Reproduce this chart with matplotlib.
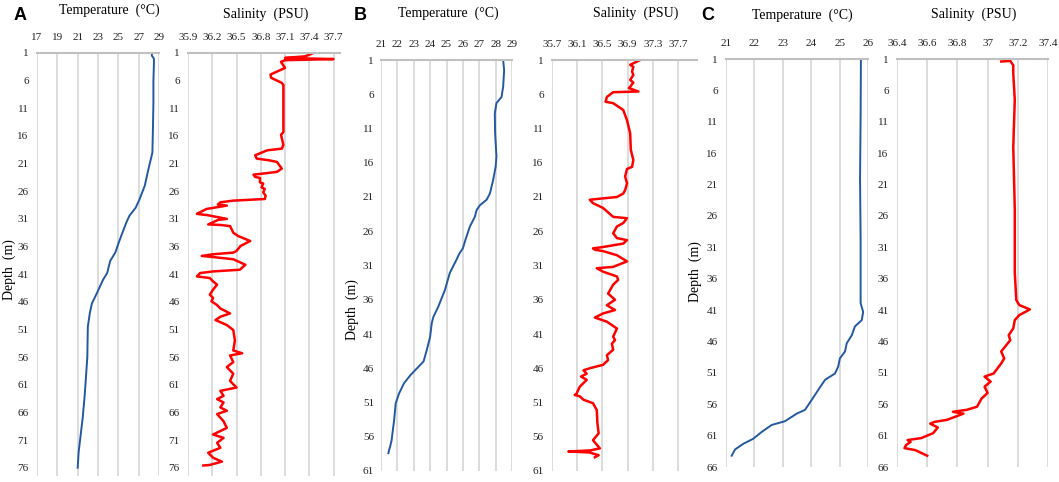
import matplotlib
matplotlib.use("Agg")
import matplotlib.pyplot as plt

plt.rcParams['font.family'] = ['Liberation Serif', 'DejaVu Serif']

# --- station A ---
a_temp_depth = [1, 1.5, 2, 3, 6, 10, 15, 19, 22.5, 25, 27.4, 29, 30.4, 31.6, 34, 35.5, 37.1, 38.6,
                40.8, 42, 44.4, 46.3, 48, 50.5, 56, 62.7, 66.9, 73.1, 76]
a_temp = [28.3, 28.3, 28.5, 28.5, 28.45, 28.45, 28.4, 28.35, 27.9, 27.6, 27.1, 26.7, 26.1, 25.8, 25.3,
          25.0, 24.7, 24.2, 23.9, 23.5, 22.9, 22.4, 22.2, 22.0, 21.95, 21.7, 21.5, 21.1, 21.0]

a_sal_depth = [1.0, 1.6, 1.9, 2.1, 2.3, 2.6, 3.7, 4.9, 5.5, 6.4, 6.8, 10, 15.3, 15.8, 17.6, 18.3, 18.6,
               19.5, 20.1, 20.4, 20.7, 21.9, 22.5, 22.8, 23.0, 23.4, 23.6, 24.4, 24.6, 25.3, 25.6, 26.2,
               26.8, 27.4, 27.7, 28.0, 28.4, 28.6, 29.2, 29.8, 30.1, 30.3, 31.0, 31.2, 32.0, 32.1, 32.3,
               33.5, 34.1, 35.0, 35.9, 36.8, 37.1, 37.4, 37.7, 37.9, 38.3, 39.3, 40.2, 40.5, 40.8, 41.4,
               41.7, 42.3, 42.9, 43.8, 44.7, 45.3, 45.9, 46.6, 47.2, 48.1, 48.7, 49.3, 50.2, 51.1, 53.0,
               54.8, 55.3, 55.7, 56.9, 57.8, 59.0, 60.3, 61.5, 62.1, 63.0, 63.6, 64.2, 65.1, 65.7, 66.3,
               67.6, 68.8, 70.0, 70.6, 71.5, 72.4, 73.3, 74.2, 74.9, 75.5, 75.6]
a_sal = [37.45, 37.35, 37.1, 37.7, 37.1, 37.05, 37.1, 36.92, 36.93, 37.06, 37.08, 37.08, 37.08, 37.05,
         37.08, 37.06, 36.88, 36.73, 36.75, 36.9, 37.0, 37.06, 37.0, 36.83, 36.71, 36.73, 36.79, 36.79,
         36.83, 36.81, 36.85, 36.83, 36.86, 36.85, 36.46, 36.30, 36.27, 36.38, 36.13, 36.05, 36.01,
         36.13, 36.38, 36.27, 36.15, 36.3, 36.42, 36.46, 36.52, 36.67, 36.55, 36.5, 36.46, 36.21,
         36.07, 36.21, 36.46, 36.61, 36.54, 36.21, 36.05, 36.01, 36.17, 36.21, 36.26, 36.21, 36.17,
         36.21, 36.19, 36.26, 36.30, 36.42, 36.30, 36.24, 36.38, 36.46, 36.48, 36.46, 36.57, 36.42,
         36.46, 36.38, 36.46, 36.42, 36.50, 36.30, 36.34, 36.26, 36.34, 36.30, 36.38, 36.26, 36.34,
         36.38, 36.21, 36.34, 36.26, 36.30, 36.15, 36.21, 36.32, 36.17, 36.09]

# --- station B ---
b_temp_depth = [1, 2.5, 4.9, 6.4, 7.3, 8.8, 11.7, 15.1, 16.6, 18.5, 20.5, 21.4, 22.2, 22.9, 23.9, 25.3,
                27.3, 28.5, 29.2, 30.2, 32.1, 34.6, 37.0, 38.5, 39.4, 41.4, 43.3, 45.0, 46.0, 47.0, 48.2,
                49.7, 51.1, 53.6, 55.5, 56.5, 57.5, 57.9, 58.4]
b_temp = [28.46, 28.52, 28.46, 28.36, 28.05, 27.95, 27.97, 28.05, 28.0, 27.85, 27.65, 27.45, 27.04,
          26.84, 26.73, 26.43, 26.15, 26.0, 25.8, 25.6, 25.2, 24.9, 24.5, 24.2, 24.1, 24.0, 23.8, 23.6,
          23.2, 22.8, 22.4, 22.1, 21.9, 21.8, 21.7, 21.65, 21.55, 21.5, 21.45]

b_sal_depth = [1.0, 1.7, 2.0, 2.7, 3.2, 3.9, 4.3, 4.9, 5.1, 5.6, 5.7, 6.4, 7.1, 7.3, 8.3, 9.8, 11.7,
               14.1, 15.6, 16.6, 16.9, 18.0, 19.0, 20.0, 20.5, 21.0, 21.2, 21.4, 21.9, 22.6, 23.9, 24.1,
               24.8, 25.3, 26.3, 27.0, 27.3, 27.8, 28.3, 28.5, 28.7, 28.9, 29.5, 30.4, 31.2, 31.4, 31.9,
               32.6, 33.1, 33.8, 35.1, 36.0, 36.8, 37.5, 38.0, 38.6, 39.2, 40.2, 41.4, 41.9, 42.4, 43.3,
               44.1, 44.8, 45.5, 46.0, 46.3, 46.8, 47.2, 47.7, 48.7, 49.7, 49.9, 50.1, 50.6, 51.1, 52.1,
               54.0, 55.5, 56.5, 57.7, 58.0, 58.15, 58.3, 58.7, 59.0]
b_sal = [37.10, 36.94, 36.99, 36.97, 36.99, 36.94, 36.99, 36.94, 36.92, 37.07, 36.67, 36.57, 36.55,
         36.67, 36.83, 36.89, 36.94, 36.95, 36.99, 36.97, 36.89, 36.86, 36.89, 36.86, 36.83, 36.73,
         36.51, 36.30, 36.35, 36.51, 36.67, 36.89, 36.83, 36.73, 36.67, 36.73, 36.89, 36.83, 36.51,
         36.35, 36.38, 36.51, 36.73, 36.89, 36.67, 36.41, 36.51, 36.73, 36.75, 36.67, 36.59, 36.70,
         36.57, 36.70, 36.51, 36.38, 36.57, 36.73, 36.67, 36.70, 36.65, 36.67, 36.57, 36.59, 36.51,
         36.30, 36.20, 36.25, 36.16, 36.25, 36.14, 36.09, 36.06, 36.14, 36.20, 36.35, 36.41, 36.42,
         36.44, 36.35, 36.46, 36.30, 35.96, 36.30, 36.44, 36.38]

# --- station C ---
c_temp_depth = [1, 10, 20, 30, 39.9, 41.3, 42.6, 43.6, 45.0, 46.3, 47.6, 48.7, 50.0, 51.1, 52.1, 53.7,
                55.3, 56.9, 57.5, 58.7, 59.3, 60.4, 61.5, 62.3, 63.2, 64.2]
c_temp = [25.75, 25.74, 25.72, 25.74, 25.74, 25.83, 25.78, 25.54, 25.43, 25.25, 25.19, 25.01, 24.95,
          24.84, 24.49, 24.25, 24.02, 23.78, 23.49, 23.08, 22.61, 22.26, 21.96, 21.61, 21.32, 21.2]

c_sal_depth = [1.4, 1.3, 2.0, 3.3, 7.5, 15, 25, 35, 39.4, 40.2, 40.9, 41.8, 42.6, 43.9, 45.0, 45.8,
               47.6, 48.7, 49.5, 51.1, 51.6, 52.4, 53.2, 54.2, 55.1, 56.4, 56.9, 57.2, 57.5, 58.5, 58.8,
               59.1, 59.7, 60.6, 61.4, 61.7, 62.0, 62.5, 63.0, 63.3, 64.2]
c_sal = [37.09, 37.15, 37.17, 37.17, 37.18, 37.17, 37.18, 37.18, 37.19, 37.21, 37.28, 37.21, 37.18,
         37.17, 37.14, 37.15, 37.09, 37.11, 37.09, 37.04, 36.98, 37.02, 36.98, 37.0, 36.96, 36.93,
         36.86, 36.77, 36.84, 36.73, 36.65, 36.62, 36.67, 36.64, 36.56, 36.47, 36.49, 36.46, 36.45,
         36.52, 36.60]

a_temp_ticks = [17, 19, 21, 23, 25, 27, 29]
a_sal_ticks = [35.9, 36.2, 36.5, 36.8, 37.1, 37.4, 37.7]
b_temp_ticks = [21, 22, 23, 24, 25, 26, 27, 28, 29]
b_sal_ticks = [35.7, 36.1, 36.5, 36.9, 37.3, 37.7]
c_temp_ticks = [21, 22, 23, 24, 25, 26]
c_sal_ticks = [36.4, 36.6, 36.8, 37, 37.2, 37.4]

W, H = 1059, 482
fig = plt.figure(figsize=(W / 100, H / 100), dpi=100)

BLUE = '#2458a0'
RED = '#ff0000'


def panel(left, right, top, bottom, xlim, xticks, dmax, x, d, color, lw, ypad=6):
    ax = fig.add_axes([left / W, 1 - bottom / H, (right - left) / W, (bottom - top) / H])
    ax.plot(x, d, color=color, lw=lw, solid_joinstyle='round')
    ax.set_xlim(*xlim)
    ax.set_ylim(dmax, 1)
    ax.xaxis.tick_top()
    ax.set_xticks(xticks)
    ax.set_xticklabels([f'{t:g}' for t in xticks])
    yt = list(range(1, int(dmax) + 1, 5))
    ax.set_yticks(yt)
    ax.tick_params(axis='both', length=0, labelsize=8, colors='#222222')
    ax.tick_params(axis='x', pad=8)
    ax.tick_params(axis='y', pad=ypad)
    ax.grid(axis='x', color='#d9d9d9', lw=1.3)
    ax.set_axisbelow(True)
    for s in ['left', 'right', 'bottom']:
        ax.spines[s].set_visible(False)
    ax.spines['top'].set_color('#c0c0c0')
    ax.spines['top'].set_linewidth(1.5)
    return ax


panel(37, 159, 53, 476, (17, 29), a_temp_ticks, 77.5, a_temp, a_temp_depth, BLUE, 1.4)
panel(188, 340, 53, 476, (35.9, 37.78), a_sal_ticks, 77.5, a_sal, a_sal_depth, RED, 1.8)
panel(381, 512, 60, 471, (21, 29), b_temp_ticks, 61, b_temp, b_temp_depth, BLUE, 1.4, ypad=5)
panel(552, 697, 60, 471, (35.7, 38.0), b_sal_ticks, 61, b_sal, b_sal_depth, RED, 1.8)
panel(726, 868, 59, 467, (21, 26), c_temp_ticks, 66, c_temp, c_temp_depth, BLUE, 1.4)
panel(897, 1048, 59, 467, (36.4, 37.4), c_sal_ticks, 66, c_sal, c_sal_depth, RED, 1.8)


def ftext(px, py, s, **kw):
    fig.text(px / W, 1 - py / H, s, ha='center', va='center', **kw)


# titles
ftext(109, 10, 'Temperature  (°C)', fontsize=10)
ftext(266, 14, 'Salinity  (PSU)', fontsize=10)
ftext(448, 13, 'Temperature  (°C)', fontsize=10)
ftext(636, 13, 'Salinity  (PSU)', fontsize=10)
ftext(802, 15, 'Temperature  (°C)', fontsize=10)
ftext(974, 14, 'Salinity  (PSU)', fontsize=10)

# panel letters
for px, letter in [(20, 'A'), (360, 'B'), (708, 'C')]:
    ftext(px, 15, letter, fontsize=13, fontweight='bold', family=['Liberation Sans', 'DejaVu Sans'])

# depth labels
for px, py in [(9, 270), (352, 310), (695, 272)]:
    ftext(px, py, 'Depth  (m)', fontsize=10, rotation=90)

fig.savefig('out.png', dpi=100)
